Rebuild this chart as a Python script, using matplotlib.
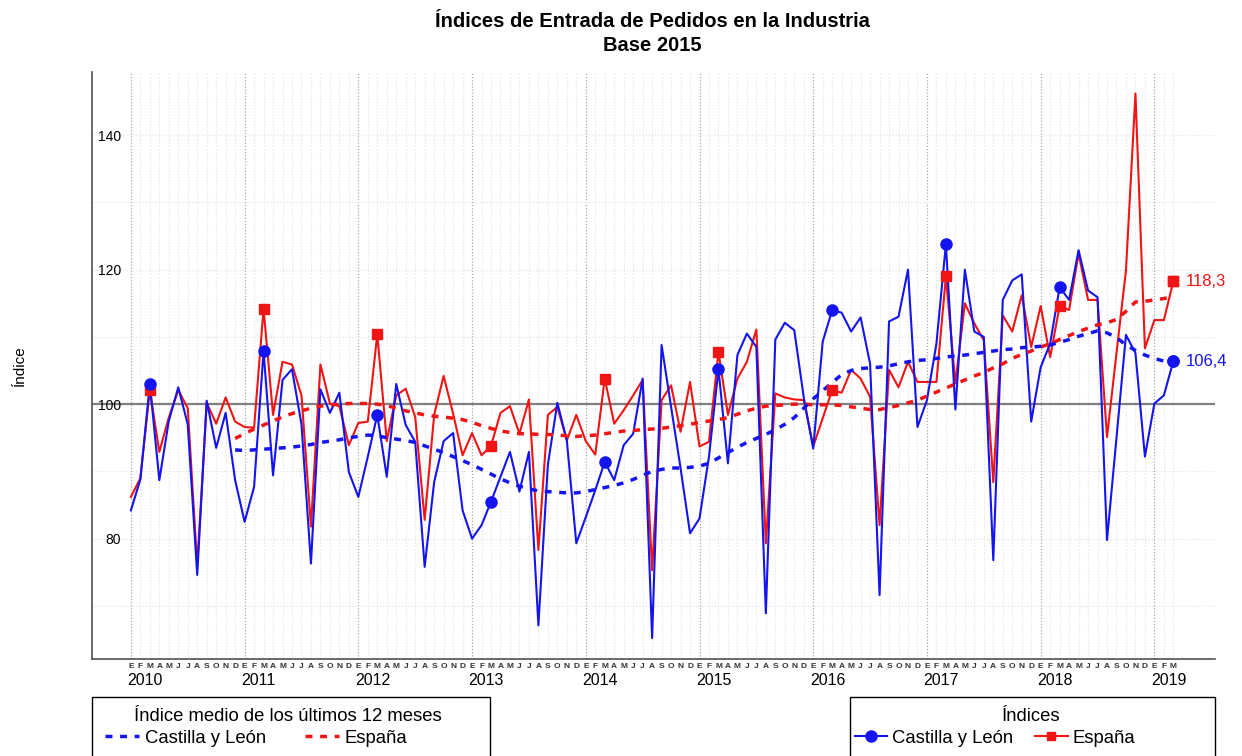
import matplotlib
matplotlib.use('Agg')
import matplotlib.pyplot as plt
from matplotlib.patches import Rectangle
import numpy as np

plt.rcParams['font.family'] = ['Liberation Sans', 'DejaVu Sans']

# monthly index, Jan 2010 .. Mar 2019
years = list(range(2010, 2020))
month_letters = ['E', 'F', 'M', 'A', 'M', 'J', 'J', 'A', 'S', 'O', 'N', 'D']

cyl = [
    84.2, 88.8, 103.0, 88.7, 97.5, 102.5, 97.0, 74.6, 100.5, 93.5, 98.7, 88.7,
    82.5, 87.7, 107.9, 89.4, 103.6, 105.2, 97.0, 76.3, 102.2, 98.7, 101.7, 89.9,
    86.2, 92.2, 98.4, 89.2, 103.0, 96.9, 94.4, 75.8, 88.4, 94.5, 95.7, 84.2,
    80.0, 82.0, 85.5, 89.2, 92.9, 87.0, 92.9, 67.1, 91.0, 100.2, 94.6, 79.3,
    83.2, 87.2, 91.4, 88.7, 93.9, 95.6, 103.8, 65.2, 108.8, 99.6, 90.5, 80.8,
    83.0, 92.2, 105.2, 91.2, 107.3, 110.5, 108.5, 68.9, 109.6, 112.1, 111.0, 101.0,
    93.4, 109.3, 114.0, 113.6, 110.8, 112.9, 106.0, 71.6, 112.3, 113.0, 120.0, 96.6,
    100.6, 109.0, 123.8, 99.2, 120.0, 110.8, 110.0, 76.8, 115.5, 118.4, 119.3, 97.4,
    105.5, 109.0, 117.4, 115.5, 122.9, 116.9, 115.9, 79.8, 95.0, 110.3, 107.6, 92.2,
    100.1, 101.3, 106.4,
]
esp = [
    86.2, 89.0, 102.1, 92.9, 98.0, 102.1, 99.4, 76.0, 100.2, 97.1, 101.0, 97.4,
    96.6, 96.5, 114.2, 98.4, 106.3, 105.9, 101.3, 81.8, 105.9, 100.1, 99.7, 93.9,
    97.2, 97.4, 110.4, 94.5, 101.3, 102.3, 98.1, 82.8, 98.4, 104.2, 98.6, 92.4,
    95.7, 92.4, 93.8, 98.7, 99.7, 95.6, 100.7, 78.3, 98.4, 99.6, 94.6, 98.4,
    94.5, 92.5, 103.8, 97.1, 99.1, 101.3, 103.6, 75.3, 100.6, 102.8, 95.9, 103.3,
    93.7, 94.4, 107.8, 98.4, 103.8, 106.3, 111.1, 79.3, 101.6, 101.0, 100.7, 100.6,
    93.7, 97.9, 102.1, 101.7, 105.1, 103.8, 101.1, 82.0, 105.1, 102.5, 106.3, 103.3,
    103.3, 103.3, 119.0, 103.1, 115.0, 112.0, 109.5, 88.4, 113.2, 110.8, 116.2, 108.5,
    114.6, 107.0, 114.6, 114.0, 122.4, 115.5, 115.5, 95.1, 107.6, 119.9, 146.2, 108.3,
    112.5, 112.5, 118.3,
]

# 12-month averages, from Dec 2010 on
cyl_avg = [
    93.2,
    93.1, 93.2, 93.3, 93.4, 93.5, 93.6, 93.8, 94.0, 94.3, 94.5, 94.7, 95.0,
    95.2, 95.4, 95.3, 95.0, 94.8, 94.6, 94.3, 93.8, 93.3, 92.8, 92.2, 91.6,
    91.0, 90.3, 89.6, 88.9, 88.3, 87.8, 87.4, 87.1, 87.0, 86.9, 86.8, 86.8,
    87.0, 87.3, 87.6, 87.9, 88.3, 88.8, 89.4, 90.0, 90.3, 90.5, 90.5, 90.6,
    90.8, 91.2, 92.0, 92.8, 93.6, 94.3, 94.9, 95.5, 96.2, 97.0, 98.0, 99.4,
    100.8, 102.0, 103.2, 104.4, 105.0, 105.3, 105.4, 105.5, 105.7, 106.0, 106.3, 106.5,
    106.6, 106.8, 107.0, 107.2, 107.3, 107.5, 107.7, 107.9, 108.1, 108.2, 108.4, 108.5,
    108.6, 108.8, 109.2, 109.6, 110.1, 110.5, 110.9, 110.6, 109.9, 108.8, 108.0, 107.3,
    106.8, 106.4, 106.2,
]
esp_avg = [
    94.9,
    95.6, 96.3, 96.9, 97.5, 98.1, 98.6, 99.0, 99.4, 99.7, 99.9, 100.0, 100.1,
    100.1, 100.1, 100.0, 99.8, 99.4, 99.0, 98.7, 98.4, 98.2, 98.1, 97.9, 97.7,
    97.3, 96.8, 96.4, 96.0, 95.8, 95.6, 95.6, 95.5, 95.5, 95.4, 95.3, 95.2,
    95.3, 95.4, 95.6, 95.8, 96.0, 96.1, 96.2, 96.3, 96.4, 96.6, 96.8, 97.0,
    97.3, 97.5, 97.7, 98.0, 98.5, 99.0, 99.4, 99.7, 99.8, 99.9, 100.0, 100.0,
    99.9, 99.9, 99.9, 99.8, 99.6, 99.4, 99.2, 99.2, 99.5, 99.8, 100.2, 100.6,
    101.2, 101.8, 102.4, 103.0, 103.6, 104.2, 104.7, 105.4, 106.0, 106.8, 107.4, 107.9,
    108.5, 109.0, 109.6, 110.2, 110.8, 111.3, 111.8, 112.1, 112.6, 113.8, 115.2, 115.3,
    115.5, 115.7, 116.0,
]

blue = '#1414f0'
red = '#f01414'

n = len(cyl)
x = np.arange(n)
x_avg = np.arange(n - len(cyl_avg), n)
marks = list(range(2, n, 12)) + [n - 1]

fig = plt.figure(figsize=(12.42, 7.56), dpi=100)
ax = fig.add_axes([0.0741, 0.1283, 0.9042, 0.7765])

# grid: light dotted per month, darker per year
for i in range(n):
    c = '#a8a8a8' if i % 12 == 0 else '#e4e4e4'
    ax.axvline(i, color=c, ls=(0, (1, 1.5)), lw=0.9, zorder=0)
for v in range(70, 150, 10):
    ax.axhline(v, color='#e4e4e4', ls=(0, (1, 1.5)), lw=0.9, zorder=0)
ax.axhline(100, color='#808080', lw=1.6, zorder=1)

ax.plot(x, esp, color=red, lw=1.5, zorder=3)
ax.plot(x, cyl, color=blue, lw=1.5, zorder=4)
ax.plot(x_avg, esp_avg, color=red, lw=2.5, ls=(0, (2, 2.2)), zorder=5)
ax.plot(x_avg, cyl_avg, color=blue, lw=2.5, ls=(0, (2, 2.2)), zorder=5)
ax.plot(x[marks], np.array(esp)[marks], 's', color=red, ms=7, zorder=6)
ax.plot(x[marks], np.array(cyl)[marks], 'o', color=blue, ms=8, zorder=7)

ax.text(n - 1 + 1.3, esp[-1], '{:.1f}'.format(esp[-1]).replace('.', ','),
        color=red, fontsize=12, va='center', ha='left')
ax.text(n - 1 + 1.3, cyl[-1], '{:.1f}'.format(cyl[-1]).replace('.', ','),
        color=blue, fontsize=12, va='center', ha='left')

ax.set_xlim(-4.1, 114.4)
ax.set_ylim(62.1, 149.4)
ax.set_yticks([80, 100, 120, 140])
# y labels sit inside the frame, right of the spine
ax.tick_params(axis='y', length=0, labelsize=10, pad=-21)
ax.set_xticks(x)
ax.set_xticklabels([month_letters[i % 12] for i in x], fontsize=6,
                   fontweight='bold', color='#333333')
ax.tick_params(axis='x', length=0, pad=3)
for k, yr in enumerate(years):
    ax.text(12 * k + 1.5, -0.024, str(yr), transform=ax.get_xaxis_transform(),
            ha='center', va='top', fontsize=11.5)

for s in ['top', 'right']:
    ax.spines[s].set_visible(False)
ax.spines['left'].set_color('#505050')
ax.spines['bottom'].set_color('#505050')
ax.spines['left'].set_linewidth(1.2)
ax.spines['bottom'].set_linewidth(1.2)

ax.set_ylabel('Índice', fontsize=11)
ax.yaxis.set_label_coords(-0.058, 0.5)

fig.text(0.525, 0.971, 'Índices de Entrada de Pedidos en la Industria',
         ha='center', va='center', fontsize=14.5, fontweight='bold')
fig.text(0.525, 0.940, 'Base 2015', ha='center', va='center',
         fontsize=14.5, fontweight='bold')

# legend boxes (cut by the bottom edge of the figure)
for bx, bw in [(0.0741, 0.3205), (0.6844, 0.2939)]:
    fig.add_artist(Rectangle((bx, -0.05), bw, 0.128, transform=fig.transFigure,
                             fill=False, edgecolor='black', lw=1.0))
fig.text(0.2319, 0.0529, 'Índice medio de los últimos 12 meses',
         ha='center', va='center', fontsize=13.3)
fig.text(0.8301, 0.0529, 'Índices', ha='center', va='center', fontsize=13.3)

h1 = [plt.Line2D([], [], color=blue, lw=2.5, ls=(0, (2, 2.2))),
      plt.Line2D([], [], color=red, lw=2.5, ls=(0, (2, 2.2)))]
fig.legend(h1, ['Castilla y León', 'España'], ncol=2,
           loc='center left', bbox_to_anchor=(0.0845, 0.0238),
           fontsize=13.3, frameon=False, handlelength=1.85,
           handletextpad=0.3, columnspacing=2.1, borderpad=0,
           borderaxespad=0)

h2 = [plt.Line2D([], [], color=blue, lw=1.5, marker='o', ms=8),
      plt.Line2D([], [], color=red, lw=1.5, marker='s', ms=6)]
fig.legend(h2, ['Castilla y León', 'España'], ncol=2,
           loc='center left', bbox_to_anchor=(0.6884, 0.0238),
           fontsize=13.3, frameon=False, handlelength=1.75,
           handletextpad=0.25, columnspacing=1.2, borderpad=0,
           borderaxespad=0)

fig.savefig('out.png', dpi=100)
